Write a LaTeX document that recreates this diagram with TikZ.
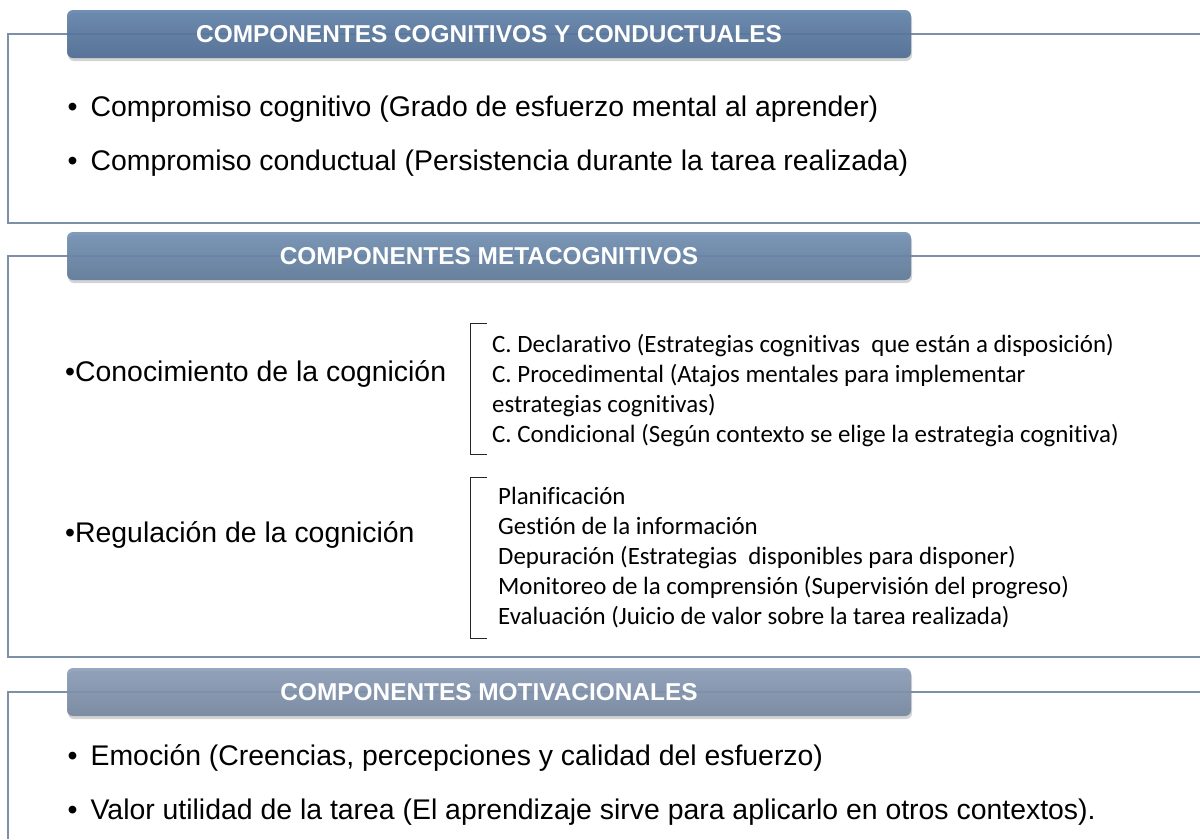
\documentclass[tikz,border=0pt]{standalone}
\usepackage{fontspec}
\setmainfont{Liberation Sans}
\newfontfamily\calibri[Ligatures=NoCommon]{Carlito}
\usetikzlibrary{shadows}
\definecolor{myframe}{HTML}{7D90A8}
\definecolor{hdronetop}{HTML}{6283AC}
\definecolor{hdronebot}{HTML}{4C6A91}
\definecolor{hdrtwotop}{HTML}{7391B4}
\definecolor{hdrtwobot}{HTML}{5C7898}
\definecolor{hdrthreetop}{HTML}{8C9DB8}
\definecolor{hdrthreebot}{HTML}{73869F}
\tikzset{
  header/.style={rounded corners=6pt, minimum width=844pt, minimum height=48pt,
    inner sep=0pt, text=white, font=\bfseries\fontsize{24.4}{24.4}\selectfont,
    fill opacity=0.9, text opacity=1,
    drop shadow={opacity=0.35, shadow xshift=1pt, shadow yshift=-3pt}},
  body/.style={anchor=base west, inner sep=0pt, font=\fontsize{28.4}{28.4}\selectfont},
  sub/.style={anchor=base west, inner sep=0pt, font=\calibri\fontsize{24.9}{24.9}\selectfont},
  frame/.style={draw=myframe, line width=1.3pt},
  bracket/.style={draw=black!85, line width=1pt}
}
\begin{document}
\begin{tikzpicture}[x=1pt,y=-1pt]
      \useasboundingbox (0,0) rectangle (1200,839);

      % FRAMES
      \draw[frame] (1200,34) -- (8,34) -- (8,223) -- (1200,223);
      \draw[frame] (1200,256) -- (8,256) -- (8,657) -- (1200,657);
      \draw[frame] (1200,692) -- (8,692) -- (8,839);

      % headers
      \node[header, top color=hdronetop, bottom color=hdronebot]
        (hcog) at (489,34) {COMPONENTES COGNITIVOS Y CONDUCTUALES};
      \node[header, top color=hdrtwotop, bottom color=hdrtwobot]
        (hmeta) at (489,256) {COMPONENTES METACOGNITIVOS};
      \node[header, top color=hdrthreetop, bottom color=hdrthreebot]
        (hmot) at (489,692) {COMPONENTES MOTIVACIONALES};

      % cognitivos y conductuales
      \node[body] (cogA) at (67.5,116) {•\hspace{13pt}Compromiso cognitivo (Grado de esfuerzo mental al aprender)};
      \node[body] (cogB) at (67.5,170) {•\hspace{13pt}Compromiso conductual (Persistencia durante la tarea realizada)};

      % metacognitivos
      \node[body] (conoc) at (65,381) {•Conocimiento de la cognición};
      \node[body] (regul) at (65,542) {•Regulación de la cognición};

      \draw[bracket] (487,323) -- (470,323) -- (470,454) -- (487,454);
      \node[sub] (decl) at (492,352) {C. Declarativo (Estrategias cognitivas\ \ que están a disposición)};
      \node[sub] (proc) at (492,382) {C. Procedimental (Atajos mentales para implementar};
      \node[sub] (procb) at (492,412) {estrategias cognitivas)};
      \node[sub] (cond) at (492,442) {C. Condicional (Según contexto se elige la estrategia cognitiva)};

      \draw[bracket] (487,477) -- (470,477) -- (470,638) -- (487,638);
      \node[sub] (plan) at (498,504) {Planificación};
      \node[sub] (gest) at (498,534) {Gestión de la información};
      \node[sub] (depu) at (498,564) {Depuración (Estrategias\ \ disponibles para disponer)};
      \node[sub] (moni) at (498,594) {Monitoreo de la comprensión (Supervisión del progreso)};
      \node[sub] (eval) at (498,624) {Evaluación (Juicio de valor sobre la tarea realizada)};

      % motivacionales
      \node[body] (emoc) at (67.5,765) {•\hspace{13pt}Emoción (Creencias, percepciones y calidad del esfuerzo)};
      \node[body] (valor) at (67.5,819) {•\hspace{13pt}Valor utilidad de la tarea (El aprendizaje sirve para aplicarlo en otros contextos).};

\end{tikzpicture}
\end{document}
